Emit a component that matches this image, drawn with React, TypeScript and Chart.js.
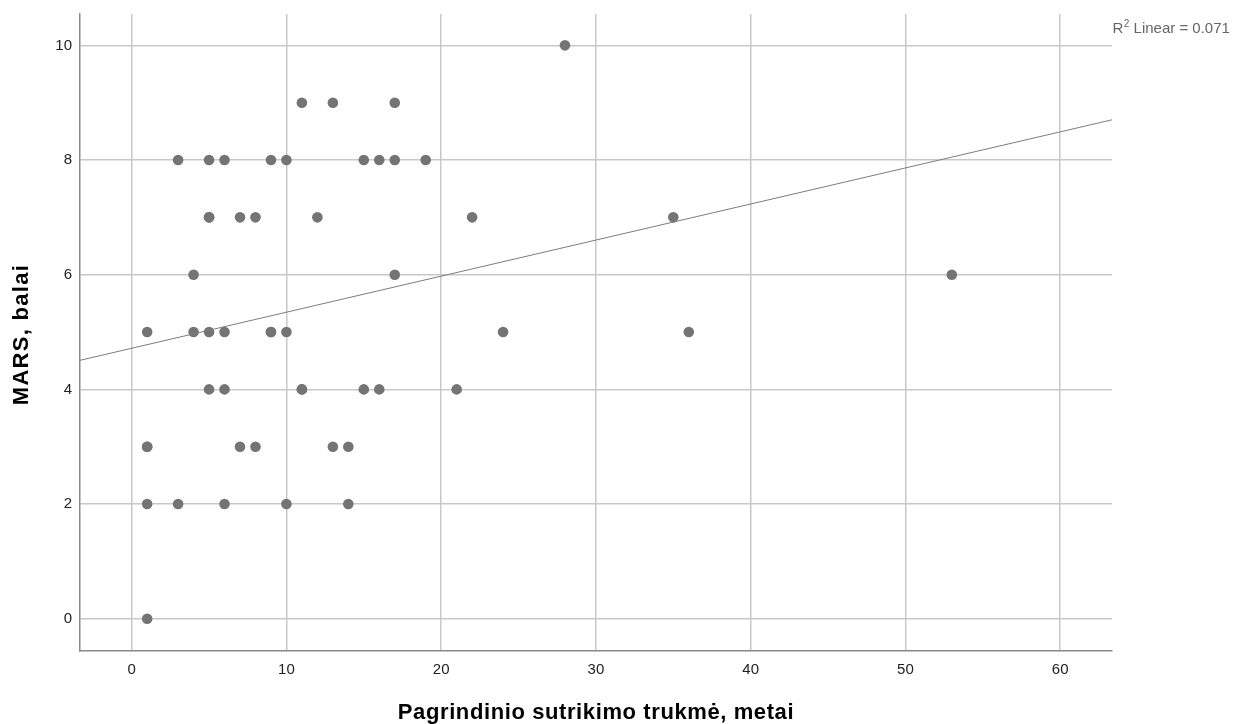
import React, { useEffect, useRef } from "react";
import { Chart, registerables } from "chart.js";

Chart.register(...registerables);

// Data
const durationYears = [
  28,
  11, 13, 17,
  3, 5, 6, 9, 10, 15, 16, 17, 19,
  5, 5, 7, 8, 12, 22, 35,
  4, 17, 53,
  1, 4, 5, 6, 9, 9, 10, 24, 36,
  5, 6, 11, 11, 15, 16, 21,
  1, 1, 7, 8, 13, 14,
  1, 3, 6, 10, 14,
  1,
];
const marsScores = [
  10,
  9, 9, 9,
  8, 8, 8, 8, 8, 8, 8, 8, 8,
  7, 7, 7, 7, 7, 7, 7,
  6, 6, 6,
  5, 5, 5, 5, 5, 5, 5, 5, 5,
  4, 4, 4, 4, 4, 4, 4,
  3, 3, 3, 3, 3, 3,
  2, 2, 2, 2, 2,
  0,
];

const xTickValues = [0, 10, 20, 30, 40, 50, 60];
const yTickValues = [0, 2, 4, 6, 8, 10];
const xRange = [-3.34, 63.35];
const yRange = [-0.563, 10.547];

const fitIntercept = 4.717;
const fitSlope = 0.0629;
const r2Value = "0.071";

const xTitle = "Pagrindinio sutrikimo trukmė, metai";
const yTitle = "MARS, balai";

const FAMILY = '"Liberation Sans", Arial, Helvetica, sans-serif';

export default function App() {
  const canvasRef = useRef<HTMLCanvasElement>(null);

  useEffect(() => {
    document.body.style.margin = "0";
    const canvas = canvasRef.current;
    if (!canvas) return;

    const points = durationYears.map((x, i) => ({ x, y: marsScores[i] }));
    const fitLine = xRange.map((x) => ({ x, y: fitIntercept + fitSlope * x }));

    const textPlugin = {
      id: "extraText",
      afterDraw(chart: any) {
        const ctx = chart.ctx as CanvasRenderingContext2D;
        const area = chart.chartArea;
        ctx.save();
        // R² label
        ctx.fillStyle = "#666666";
        ctx.textBaseline = "alphabetic";
        ctx.textAlign = "left";
        let x = area.right + 0.5;
        const y = 33;
        ctx.font = `15px ${FAMILY}`;
        ctx.fillText("R", x, y);
        x += ctx.measureText("R").width + 0.5;
        ctx.font = `10px ${FAMILY}`;
        ctx.fillText("2", x, y - 6.5);
        x += ctx.measureText("2").width;
        ctx.font = `15px ${FAMILY}`;
        ctx.fillText(" Linear = " + r2Value, x, y);
        ctx.restore();

        // Axis titles
        ctx.save();
        ctx.fillStyle = "#000000";
        ctx.font = `bold 22px ${FAMILY}`;
        ctx.textAlign = "center";
        ctx.textBaseline = "alphabetic";
        (ctx as any).letterSpacing = "0.6px";
        ctx.fillText(xTitle, (area.left + area.right) / 2, 718.5);
        ctx.restore();

        ctx.save();
        ctx.fillStyle = "#000000";
        ctx.font = `bold 22px ${FAMILY}`;
        ctx.textAlign = "center";
        ctx.textBaseline = "alphabetic";
        (ctx as any).letterSpacing = "1.3px";
        ctx.translate(27.5, (area.top + area.bottom) / 2 + 2);
        ctx.rotate(-Math.PI / 2);
        ctx.fillText(yTitle, 0, 0);
        ctx.restore();
      },
    };

    const chart = new Chart(canvas, {
      type: "scatter",
      data: {
        datasets: [
          {
            type: "line",
            data: fitLine,
            borderColor: "#7c7c7c",
            borderWidth: 1,
            pointRadius: 0,
            fill: false,
            order: 0,
          } as any,
          {
            data: points,
            backgroundColor: "#747474",
            borderWidth: 0,
            pointRadius: 5.3,
            pointHoverRadius: 5.3,
            order: 1,
          },
        ],
      },
      options: {
        animation: false,
        responsive: false,
        devicePixelRatio: 1,
        layout: { padding: { top: 14, right: 124, bottom: 0, left: 0 } },
        plugins: {
          legend: { display: false },
          tooltip: { enabled: false },
        },
        scales: {
          x: {
            type: "linear",
            min: xRange[0],
            max: xRange[1],
            afterBuildTicks: (s: any) => {
              s.ticks = xTickValues.map((v) => ({ value: v }));
            },
            afterFit: (s: any) => {
              s.height = 73;
              s.paddingLeft = 0;
              s.paddingRight = 0;
            },
            grid: { color: "#c8c8c8", lineWidth: 1.5, drawTicks: false },
            border: { color: "#8a8a8a", width: 1.5 },
            ticks: {
              padding: 10,
              color: "#222222",
              font: { size: 15, family: FAMILY },
            },
            title: { display: false },
          },
          y: {
            type: "linear",
            min: yRange[0],
            max: yRange[1],
            afterBuildTicks: (s: any) => {
              s.ticks = yTickValues.map((v) => ({ value: v }));
            },
            afterFit: (s: any) => {
              s.width = 80;
              s.paddingTop = 0;
              s.paddingBottom = 0;
            },
            grid: { color: "#c8c8c8", lineWidth: 1.5, drawTicks: false },
            border: { color: "#8a8a8a", width: 1.5 },
            ticks: {
              padding: 8,
              color: "#222222",
              font: { size: 15, family: FAMILY },
            },
            title: { display: false },
          },
        },
      } as any,
      plugins: [textPlugin],
    });

    return () => chart.destroy();
  }, []);

  return (
    <div style={{ width: 1236, height: 724, background: "#ffffff" }}>
      <canvas ref={canvasRef} width={1236} height={724} style={{ display: "block" }} />
    </div>
  );
}
